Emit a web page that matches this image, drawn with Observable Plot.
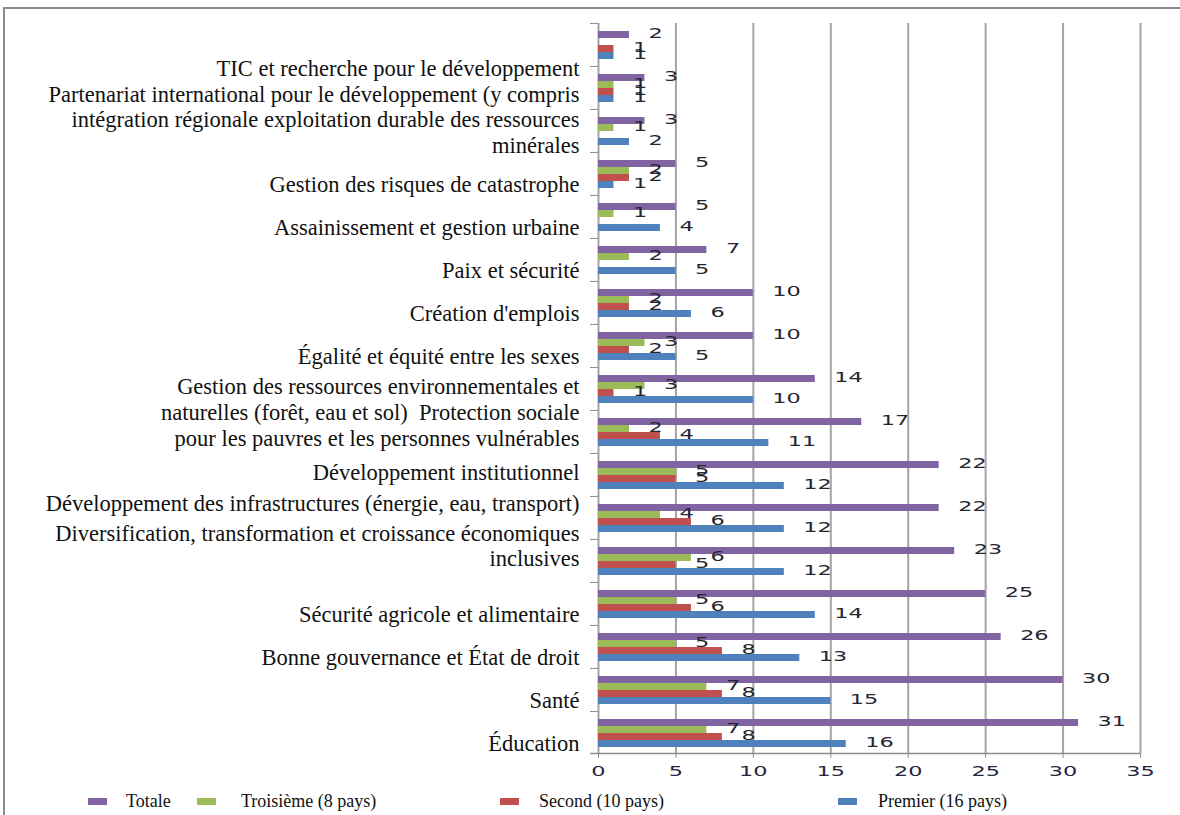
<!DOCTYPE html>
<html>
<head>
<meta charset="utf-8">
<script src="https://cdn.jsdelivr.net/npm/d3@7"></script>
<script src="https://cdn.jsdelivr.net/npm/@observablehq/plot@0.6"></script>
<style>
  body { margin: 0; background: #fff; }
  #wrap { position: relative; width: 1180px; height: 815px; overflow: hidden; font-family: "Liberation Serif", serif; }
  #frame { position: absolute; left: 3px; top: 7px; width: 1300px; height: 900px;
           border-left: 2px solid #8c8c8c; border-top: 2px solid #8c8c8c; }
  #chart { position: absolute; left: 0; top: 0; }
  #legend { position: absolute; left: 0; top: 789px; width: 1180px; height: 24px; }
  .item { position: absolute; top: 0; height: 24px; display: flex; align-items: center; font-size: 18px; color: #111; }
  .item .sw { display: inline-block; width: 19px; height: 7px; }
  .item:nth-child(1) { left: 88px; }   .item:nth-child(1) .sw { margin-right: 19px; }
  .item:nth-child(2) { left: 197px; }  .item:nth-child(2) .sw { margin-right: 25px; }
  .item:nth-child(3) { left: 500px; }  .item:nth-child(3) .sw { margin-right: 20px; }
  .item:nth-child(4) { left: 838px; }  .item:nth-child(4) .sw { margin-right: 21px; }
</style>
</head>
<body>
<div id="wrap">
  <div id="frame"></div>
  <div id="chart"></div>
  <div id="legend"></div>
</div>
<script>
// Thematic areas, top to bottom as drawn
const categories = [
  "TIC et recherche pour le développement",
  "Partenariat international pour le développement (y compris intégration régionale)",
  "Exploitation durable des ressources minérales",
  "Gestion des risques de catastrophe",
  "Assainissement et gestion urbaine",
  "Paix et sécurité",
  "Création d'emplois",
  "Égalité et équité entre les sexes",
  "Gestion des ressources environnementales et naturelles (forêt, eau et sol)",
  "Protection sociale pour les pauvres et les personnes vulnérables",
  "Développement institutionnel",
  "Développement des infrastructures (énergie, eau, transport)",
  "Diversification, transformation et croissance économiques inclusives",
  "Sécurité agricole et alimentaire",
  "Bonne gouvernance et État de droit",
  "Santé",
  "Éducation"
];

// Category text as laid out in the original axis (blank lines marked with a no-break space)
const B = "\u00a0";
const axisLabels = [
  [B, B, B, B,
   "TIC et recherche pour le développement",
   "Partenariat international pour le développement (y compris",
   "intégration régionale exploitation durable des ressources",
   "minérales"].join("\n"),
  "",
  "",
  "Gestion des risques de catastrophe",
  "Assainissement et gestion urbaine",
  "Paix et sécurité",
  "Création d'emplois",
  "Égalité et équité entre les sexes",
  [B,
   "Gestion des ressources environnementales et",
   "naturelles (forêt, eau et sol)  Protection sociale",
   "pour les pauvres et les personnes vulnérables"].join("\n"),
  "",
  ["Développement institutionnel", B].join("\n"),
  ["Développement des infrastructures (énergie, eau, transport)", B, B].join("\n"),
  ["Diversification, transformation et croissance économiques", "inclusives", B, B].join("\n"),
  "Sécurité agricole et alimentaire",
  "Bonne gouvernance et État de droit",
  "Santé",
  "Éducation"
];

const series = ["Totale", "Troisième (8 pays)", "Second (10 pays)", "Premier (16 pays)"];
const colors = ["#8064A2", "#9BBB59", "#C0504D", "#4F81BD"];

const totale    = [2, 3, 3, 5, 5, 7, 10, 10, 14, 17, 22, 22, 23, 25, 26, 30, 31];
const troisieme = [0, 1, 1, 2, 1, 2, 2, 3, 3, 2, 5, 4, 6, 5, 5, 7, 7];
const second    = [1, 1, 0, 2, 0, 0, 2, 2, 1, 4, 5, 6, 5, 6, 8, 8, 8];
const premier   = [1, 1, 2, 1, 4, 5, 6, 5, 10, 11, 12, 12, 12, 14, 13, 15, 16];

const xTicks = [0, 5, 10, 15, 20, 25, 30, 35];

const seriesValues = [totale, troisieme, second, premier];
const rows = categories.flatMap((c, i) =>
  series.map((s, j) => ({category: c, series: s, value: seriesValues[j][i]}))
).filter(d => d.value > 0);

const gridColor = "#a3a3a3";
const axisColor = "#8c8c8c";

const chart = Plot.plot({
  width: 1180,
  height: 790,
  marginLeft: 598,
  marginRight: 40,
  marginTop: 22,
  marginBottom: 35,
  style: {background: "transparent", overflow: "visible", fontFamily: "Liberation Serif"},
  x: {domain: [0, 35], axis: null},
  y: {domain: series, paddingInner: 0, paddingOuter: 0.7, axis: null},
  fy: {domain: categories, padding: 0, axis: null},
  color: {domain: series, range: colors},
  marks: [
    Plot.ruleX(xTicks, {stroke: gridColor, strokeWidth: 2}),
    Plot.barX(rows, {fy: "category", y: "series", x: "value", fill: "series"}),
    Plot.text(rows, {
      fy: "category", y: "series", x: "value", text: d => String(d.value),
      textAnchor: "start", dx: 19, dy: -1,
      fontFamily: "DejaVu Sans", fontSize: 14, fill: "#262630"
    }),
    Plot.text(categories, {
      fy: d => d, text: (d, i) => axisLabels[i],
      frameAnchor: "left", textAnchor: "end", lineAnchor: "middle",
      dx: -19, dy: 10, lineHeight: 1.14,
      fontSize: 22.5, fontFamily: "Liberation Serif", fill: "#111"
    }),
    Plot.axisFy({anchor: "left", tickSize: 8, tickFormat: () => "", label: null, dy: -21.56, stroke: axisColor}),
    Plot.ruleY([categories[categories.length - 1]], {
      fy: d => d, y: () => series[series.length - 1], x1: () => -0.5, x2: () => 35,
      dy: 9.58, stroke: axisColor, strokeWidth: 1.5
    }),
    Plot.axisX({
      ticks: xTicks, tickSize: 4, tickPadding: 8, label: null, stroke: axisColor,
      fontFamily: "DejaVu Sans", fontSize: 14, fill: "#262640"
    })
  ]
});

document.getElementById("chart").appendChild(chart);

// widen the numerals (value labels and x tick labels), as in the original
chart.querySelectorAll('g[font-family="DejaVu Sans"] text').forEach(t => {
  const w = t.getComputedTextLength();
  if (w > 0) {
    t.setAttribute("textLength", (w * 1.6).toFixed(1));
    t.setAttribute("lengthAdjust", "spacingAndGlyphs");
  }
});

// legend
const legend = document.getElementById("legend");
series.forEach((s, i) => {
  const item = document.createElement("div");
  item.className = "item";
  const sw = document.createElement("span");
  sw.className = "sw";
  sw.style.background = colors[i];
  const label = document.createElement("span");
  label.textContent = s;
  item.appendChild(sw);
  item.appendChild(label);
  legend.appendChild(item);
});
</script>
</body>
</html>
